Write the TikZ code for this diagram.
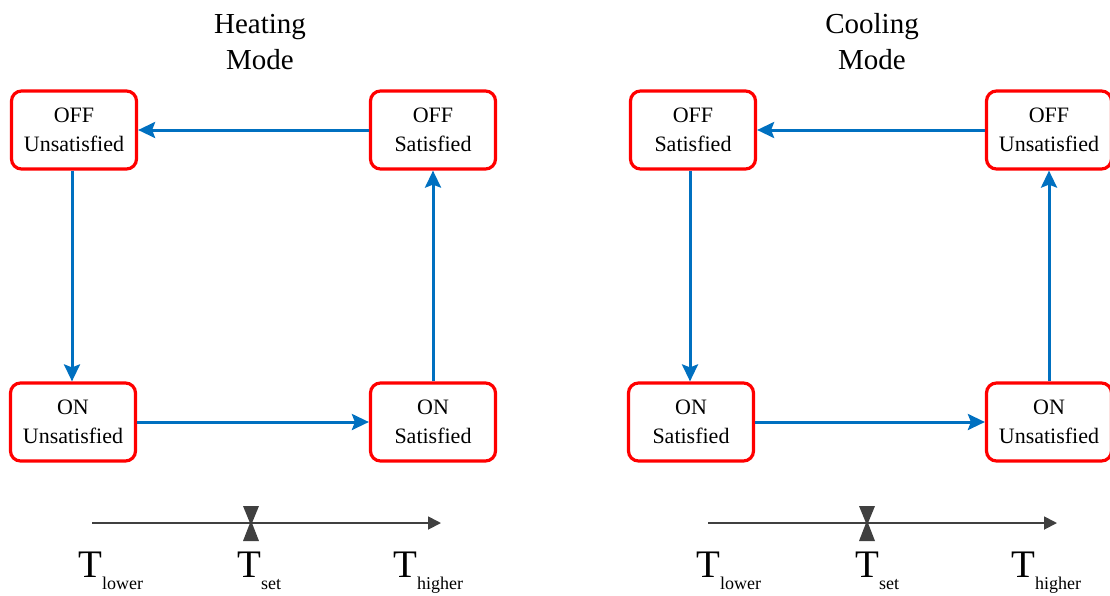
\documentclass[tikz,border=0pt]{standalone}
\usepackage{fontspec}
\setmainfont{Liberation Serif}
\usetikzlibrary{arrows.meta}
\definecolor{stateRed}{RGB}{255,0,0}
\definecolor{flowBlue}{RGB}{0,112,192}
\definecolor{axisGray}{RGB}{64,64,64}
\tikzset{
  statebox/.style={draw=stateRed, line width=3.2pt, rounded corners=10pt, fill=white,
    minimum width=125pt, minimum height=78pt, inner sep=0pt, align=center,
    font=\fontsize{22}{29}\selectfont},
  flow/.style={draw=flowBlue, line width=3pt, -{Stealth[length=17pt,width=16pt,inset=3pt]}},
  axisline/.style={draw=axisGray, line width=1.8pt, -{Triangle[length=13pt,width=13pt]}},
  marker/.style={fill=axisGray, draw=none},
  title/.style={align=center, font=\fontsize{29}{36}\selectfont},
  tlabel/.style={anchor=base west, inner sep=0pt, font=\fontsize{39}{39}\selectfont}
}
\newcommand{\tsub}[1]{T\raisebox{-12pt}{\fontsize{18}{18}\selectfont #1}}
\begin{document}
\begin{tikzpicture}[x=1pt, y=-1pt]
  \useasboundingbox (0,0) rectangle (1110,595);

  % ---------- Heating mode ----------
  \node[title] (htitle) at (260,42) {Heating\\Mode};
  \node[statebox] (hOU) at (74,130) {OFF\\Unsatisfied};
  \node[statebox] (hOS) at (433,130) {OFF\\Satisfied};
  \node[statebox] (hNU) at (73,422) {ON\\Unsatisfied};
  \node[statebox] (hNS) at (433,422) {ON\\Satisfied};
  \draw[flow] (hOS.west) -- (hOU.east);
  \draw[flow] (hOU.south -| 72,0) -- (hNU.north -| 72,0);
  \draw[flow] (hNU.east) -- (hNS.west);
  \draw[flow] (hNS.north) -- (hOS.south);

  \coordinate (haxA) at (92,523);
  \coordinate (haxB) at (441,523);
  \draw[axisline] (haxA) -- (haxB);
  \fill[marker] (243,506) -- (259,506) -- (252,523) -- (259,541) -- (243,541) -- (250,523) -- cycle;
  \node[tlabel] (hTl) at (78,577) {\tsub{lower}};
  \node[tlabel] (hTs) at (237,577) {\tsub{set}};
  \node[tlabel] (hTh) at (393,577) {\tsub{higher}};

  % ---------- Cooling mode ----------
  \node[title] (ctitle) at (872,42) {Cooling\\Mode};
  \node[statebox] (cOS) at (693,130) {OFF\\Satisfied};
  \node[statebox] (cOU) at (1049,130) {OFF\\Unsatisfied};
  \node[statebox] (cNS) at (691,422) {ON\\Satisfied};
  \node[statebox] (cNU) at (1049,422) {ON\\Unsatisfied};
  \draw[flow] (cOU.west) -- (cOS.east);
  \draw[flow] (cOS.south -| 690,0) -- (cNS.north -| 690,0);
  \draw[flow] (cNS.east) -- (cNU.west);
  \draw[flow] (cNU.north) -- (cOU.south);

  \coordinate (caxA) at (708,523);
  \coordinate (caxB) at (1057,523);
  \draw[axisline] (caxA) -- (caxB);
  \fill[marker] (859,506) -- (875,506) -- (868,523) -- (875,541) -- (859,541) -- (866,523) -- cycle;
  \node[tlabel] (cTl) at (696,577) {\tsub{lower}};
  \node[tlabel] (cTs) at (855,577) {\tsub{set}};
  \node[tlabel] (cTh) at (1011,577) {\tsub{higher}};
\end{tikzpicture}
\end{document}
